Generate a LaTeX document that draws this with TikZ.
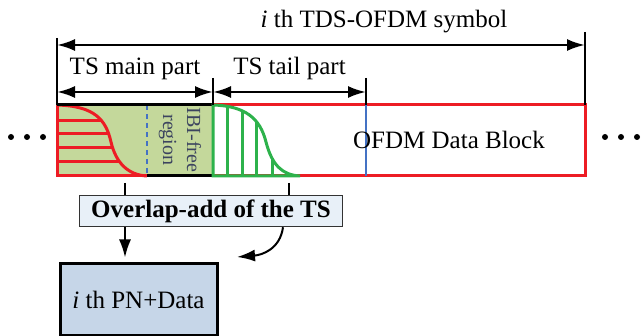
\documentclass[tikz,border=0pt]{standalone}
\usepackage{fontspec}
\setmainfont{Liberation Serif}
\usetikzlibrary{arrows.meta, positioning}
\definecolor{tsred}{RGB}{237,28,36}
\definecolor{tsgreen}{RGB}{45,178,75}
\definecolor{ibifill}{RGB}{196,216,155}
\definecolor{ibiblue}{RGB}{68,114,196}
\definecolor{ibitext}{RGB}{60,68,95}
\definecolor{overlapfill}{RGB}{232,240,248}
\definecolor{pnfill}{RGB}{198,214,232}
\tikzset{
x=1pt, y=-1pt, % pixel coordinates, y grows downwards
>={Latex[length=18pt, width=12pt]}, % big filled arrow heads
every node/.style={font=\fontsize{25}{28}\selectfont, inner sep=0pt}, % text size of all labels
dimarrow/.style={<->, line width=2.5pt}, % the length arrows above the block
tickline/.style={line width=1.8pt}, % short vertical marks
hatch/.style={line width=3pt}, % the lines under the curves
overlapbox/.style={draw=black!80, line width=1.5pt, fill=overlapfill, minimum width=263pt, minimum height=31pt, font=\fontsize{25}{28}\selectfont\bfseries},
pnbox/.style={draw=black, line width=3pt, fill=pnfill, minimum width=157pt, minimum height=71pt},
flowarrow/.style={->, line width=2pt},
}
\begin{document}
\begin{tikzpicture}
    \useasboundingbox (0,0) rectangle (642,336);
    % TS main part with its red curve
    \fill[ibifill] (57,105) rectangle (213,176);
    \begin{scope}
      \clip (57,105) .. controls (95,106) and (106,120) .. (111,142) .. controls (116,163) and (128,175) .. (147,176) -- (57,176) -- cycle;
      \foreach \y in {121,134,148,162}
        \draw[hatch, tsred] (57,\y) -- (150,\y);
    \end{scope}
    \draw[hatch, tsred] (57,105) .. controls (95,106) and (106,120) .. (111,142) .. controls (116,163) and (128,175) .. (147,176);
    \draw[ibiblue, line width=2.5pt, dash pattern=on 5pt off 4pt] (147,105) -- (147,176);
    \node[rotate=-90, align=center, font=\fontsize{20}{24}\selectfont, text=ibitext] (ibi) at (180,140) {IBI-free\\region};
    % the whole block
    \draw[tsred, line width=3pt] (57,105) rectangle (585,176);
    \draw[black, line width=3pt] (57,105) -- (213,105) (147,176) -- (213,176);
    % TS tail part with its green curve
    \begin{scope}
      \clip (213,105) .. controls (245,106) and (260,118) .. (266,142) .. controls (272,165) and (282,175) .. (300,176) -- (213,176) -- cycle;
      \foreach \x in {227,242,256,272}
        \draw[hatch, tsgreen] (\x,105) -- (\x,178);
    \end{scope}
    \draw[hatch, tsgreen] (213,105) .. controls (245,106) and (260,118) .. (266,142) .. controls (272,165) and (282,175) .. (300,176) -- (213,176) -- cycle;
    \draw[ibiblue, line width=2.5pt] (366,105) -- (366,176);
    \node (data) at (449,140) {OFDM Data Block};
    % dots on both sides
    \foreach \x in {11,27,43,605,621,637}
      \fill (\x,137) circle (3pt);
    % length marks above the block
    \coordinate (symL) at (57,45);
    \coordinate (symR) at (585,45);
    \coordinate (mainL) at (57,92);
    \coordinate (mainR) at (213,92);
    \coordinate (tailR) at (366,92);
    \draw[tickline] (57,38) -- (57,105) (213,78) -- (213,105) (366,78) -- (366,105) (585,32) -- (585,105);
    \draw[dimarrow] (symL) -- (symR);
    \node (symbol) at (384,22) {\textit{i} th TDS-OFDM symbol};
    \draw[dimarrow] (mainL) -- node[above=11pt] (main) {TS main part} (mainR);
    \draw[dimarrow] (mainR) -- node[above=11pt] (tail) {TS tail part} (tailR);
    % overlap-add and the result
    \node[overlapbox] (overlap) at (211,211) {Overlap-add of the TS};
    \node[pnbox] (pn) at (138.5,299.5) {\textit{i} th PN+Data};
    \coordinate (tsA) at (125,183);
    \coordinate (tsB) at (289,183);
    \coordinate (curveEnd) at (237,257);
    \draw[tickline] (tsA) -- (tsA |- overlap.north) (tsB) -- (tsB |- overlap.north);
    \draw[flowarrow, shorten >=5pt] (tsA |- overlap.south) -- (tsA |- pn.north);
    \draw[flowarrow] ([xshift=72pt]overlap.south) .. controls +(-3,22) and +(25,-2) .. (curveEnd);
\end{tikzpicture}
\end{document}
